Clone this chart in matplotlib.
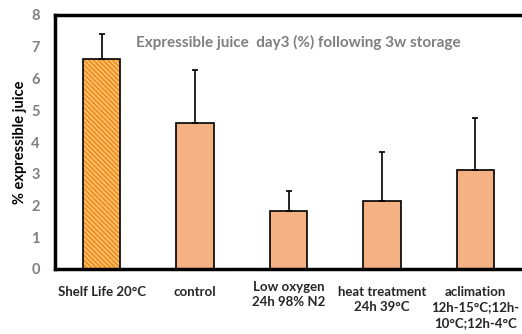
import matplotlib
matplotlib.use('Agg')
import matplotlib.pyplot as plt
import matplotlib.transforms as mtransforms

plt.rcParams['font.family'] = ['Lato', 'DejaVu Sans']
plt.rcParams['hatch.linewidth'] = 1.2

categories = ['Shelf Life 20°C', 'control', 'Low oxygen\n24h 98% N2',
              'heat treatment\n24h 39°C', 'aclimation\n12h-15°C;12h-\n10°C;12h-4°C']
values = [6.61, 4.60, 1.83, 2.14, 3.12]
errors = [0.79, 1.67, 0.63, 1.55, 1.64]
yticks = [0, 1, 2, 3, 4, 5, 6, 7, 8]
title = 'Expressible juice  day3 (%) following 3w storage'

fig = plt.figure(figsize=(5.22, 3.34), dpi=100)
ax = fig.add_axes([55 / 522, 65 / 334, 467 / 522, 254 / 334])

x = list(range(len(categories)))
plain = '#F4B183'

# all bars, first one hatched
ax.bar(x[1:], values[1:], width=0.4, color=plain, edgecolor='black', linewidth=1.2, zorder=2)
ax.bar(x[0], values[0], width=0.4, color='#FBC46E', edgecolor='#F08A1E', hatch='\\' * 7,
       linewidth=0, zorder=2)
ax.bar(x[0], values[0], width=0.4, fill=False, edgecolor='black', linewidth=1.2, zorder=3)

ax.errorbar(x, values, yerr=[[0] * len(errors), errors], fmt='none', ecolor='black',
            elinewidth=1.2, capsize=2.5, capthick=1.2, zorder=4)

ax.set_xlim(-0.5, 4.5)
ax.set_ylim(0, 8)
ax.set_yticks(yticks)
ax.set_yticklabels([str(t) for t in yticks], color='#7F7F7F', fontsize=10.5, fontweight='bold')
ax.set_xticks(x)
ax.set_xticklabels(categories, fontsize=9.5, fontweight='bold', color='#262626',
                   linespacing=1.35, va='top')
ax.tick_params(axis='both', length=0)
ax.tick_params(axis='x', pad=12)
ax.tick_params(axis='y', pad=11)

lbl = ax.get_xticklabels()[2]
lbl.set_transform(lbl.get_transform() + mtransforms.ScaledTranslation(0, 5 / 100, fig.dpi_scale_trans))

for side in ['left', 'bottom', 'top']:
    ax.spines[side].set_linewidth(2.5)
    ax.spines[side].set_color('black')
ax.spines['right'].set_linewidth(0.8)
ax.spines['right'].set_color('#BFBFBF')

ax.set_ylabel('% expressible juice', fontsize=10.5, fontweight='bold', color='black', labelpad=3)
ax.text(0.52, 0.893, title, transform=ax.transAxes, ha='center', va='center',
        fontsize=11, fontweight='bold', color='#7F7F7F')

fig.savefig('out.png', dpi=100)
